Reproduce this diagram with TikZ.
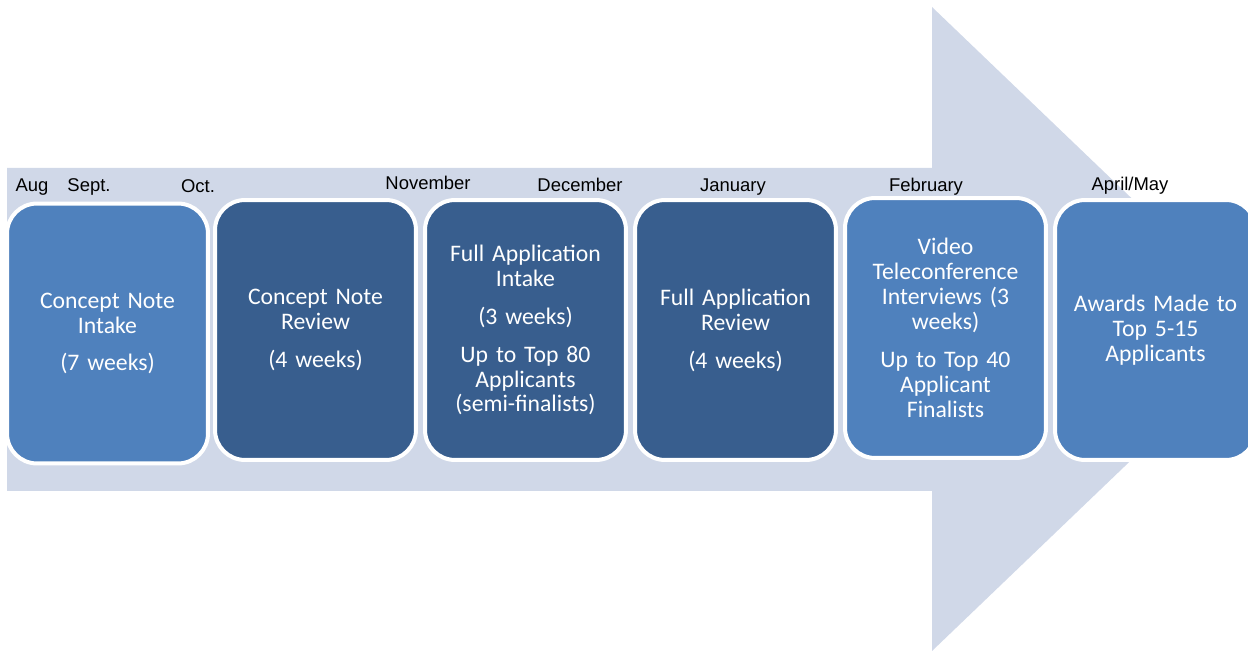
\documentclass[tikz,border=0pt]{standalone}
\usepackage{fontspec}
\setmainfont{Carlito}
\newfontfamily\monthfont{Liberation Sans}
\definecolor{arrowbg}{RGB}{208,216,232}
\definecolor{phaselight}{RGB}{79,129,189}
\definecolor{phasedark}{RGB}{56,94,142}
\tikzset{
	phase/.style={draw=white, line width=0.08cm, rounded corners=0.6cm,
		minimum width=4.02cm, minimum height=5.2cm, text width=3.8cm,
		align=center, inner sep=0pt, text=white,
		font=\fontsize{13.5}{14.2}\selectfont},
	month/.style={anchor=base, inner sep=0pt,
		font=\monthfont\fontsize{10.5}{12}\selectfont}
}
\begin{document}
\begin{tikzpicture}[x=0.02cm,y=-0.02cm]
			\def\gap{0.26cm}
			\clip (0,0) rectangle (1248,651);

			% Big arrow
			\fill[arrowbg] (7,168) -- (932,168) -- (932,7) -- (1268,329)
				-- (932,651) -- (932,491) -- (7,491) -- cycle;

			% Months
			\foreach \name/\txt/\x/\y in {aug/Aug/32/192, sep/Sept./89/192,
					oct/Oct./198/193, nov/November/428/190, dec/December/580/192,
					jan/January/733/192, feb/February/926/192, apr/{April/May}/1130/191}{
					\node[month] (\name) at (\x,\y) {\txt};
				}

			% Phases
			\node[phase, fill=phaselight] (cnintake) at (107.5,333.5)
				{Concept Note\\Intake\\[\gap](7 weeks)};
			\node[phase, fill=phasedark] (cnreview) at (315.5,330)
				{Concept Note\\Review\\[\gap](4 weeks)};
			\node[phase, fill=phasedark] (faintake) at (525.5,330)
				{Full Application\\Intake\\[\gap](3 weeks)\\[\gap]Up to Top 80\\Applicants\\(semi-finalists)};
			\node[phase, fill=phasedark] (fareview) at (735.5,330)
				{Full Application\\Review\\[\gap](4 weeks)};
			\node[phase, fill=phaselight] (interviews) at (945.5,328)
				{Video\\Teleconference\\Interviews (3\\weeks)\\[\gap]Up to Top 40\\Applicant\\Finalists};
			\node[phase, fill=phaselight] (awards) at (1155.5,330)
				{Awards Made to\\Top 5-15\\Applicants};
		\end{tikzpicture}
\end{document}
